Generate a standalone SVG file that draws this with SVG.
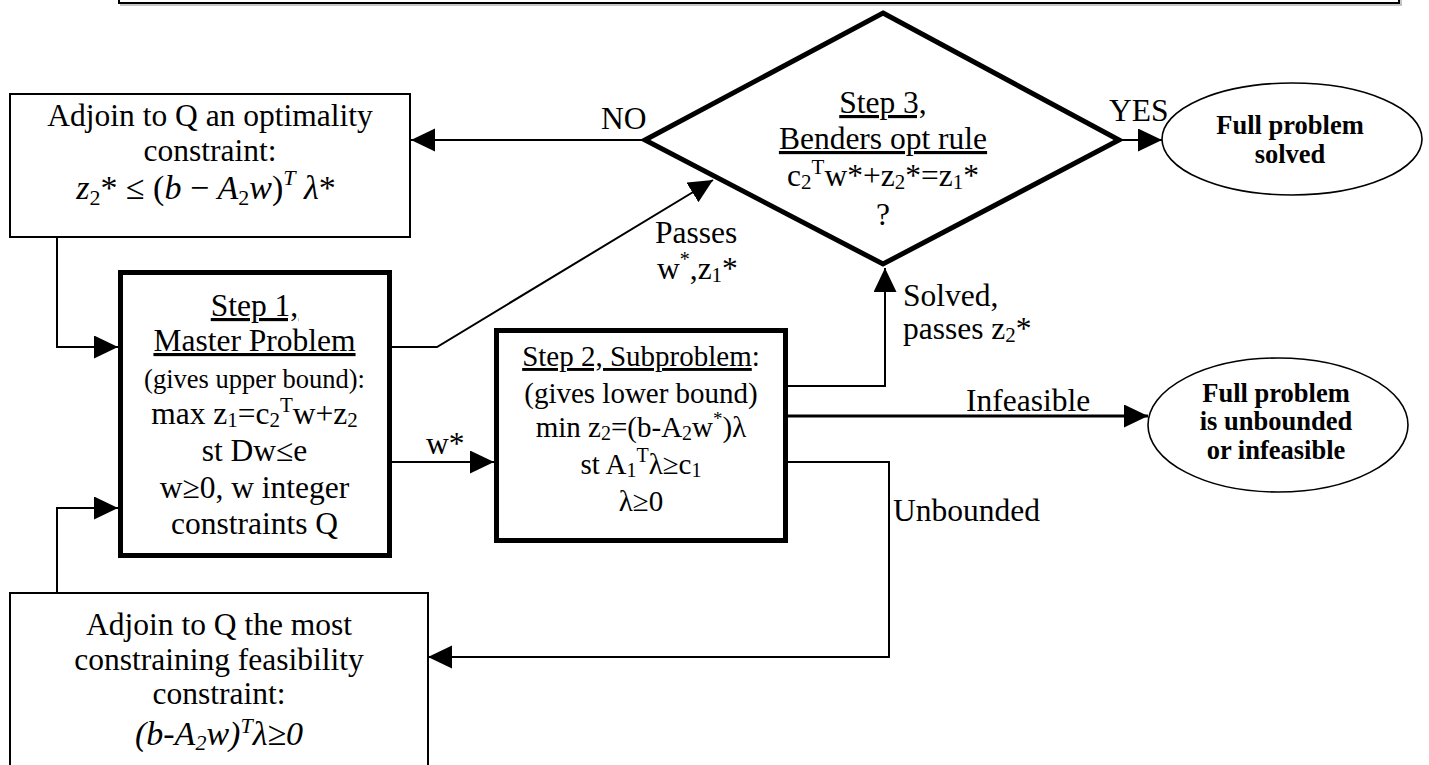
<svg xmlns="http://www.w3.org/2000/svg" width="1429" height="765" viewBox="0 0 1429 765">
<style>
  text { font-family: "Liberation Serif", "Times New Roman", serif; fill: #000; }
  .t { font-size: 31.5px; text-anchor: middle; }
  .l { font-size: 31.5px; }
  .s { font-size: 26.5px; text-anchor: middle; }
  .m { font-size: 29px; text-anchor: middle; }
  .b { font-size: 26.5px; font-weight: bold; text-anchor: middle; }
  .f { font-size: 34px; text-anchor: middle; }
  .i { font-style: italic; }
  .u { text-decoration: underline; }
  .box { fill: #fff; stroke: #000; stroke-width: 2; }
  .step { fill: #fff; stroke: #000; stroke-width: 5; }
  .oval { fill: #fff; stroke: #000; stroke-width: 1.6; }
  .wire { fill: none; stroke: #000; stroke-width: 2; marker-end: url(#ah); }
</style>
<defs>
  <marker id="ah" markerUnits="userSpaceOnUse" markerWidth="26" markerHeight="24" refX="24" refY="11.5" orient="auto">
    <path d="M0,0 L24,11.5 L0,23 Z" fill="#000"/>
  </marker>
</defs>

<rect width="1429" height="765" fill="#fff"/>

<!-- frame edge along the top -->
<g id="frame">
  <line x1="120" y1="5" x2="1402" y2="5" stroke="#b5b5b5" stroke-width="1.5"/>
  <line x1="1401" y1="0" x2="1401" y2="5" stroke="#b5b5b5" stroke-width="1.5"/>
  <rect x="119" y="-30" width="1280" height="33" fill="none" stroke="#000" stroke-width="2"/>
</g>

<!-- connectors -->
<g id="connectors">
  <path class="wire" d="M642,140 H411"/>
  <path class="wire" d="M57,237 V347 H118"/>
  <path class="wire" d="M57,593 V508 H118"/>
  <path class="wire" d="M392,347 H437 L713,180"/>
  <path class="wire" d="M392,462 H494"/>
  <path class="wire" d="M788,386 H885 V268"/>
  <path class="wire" style="stroke-width:3" d="M788,416 H1148"/>
  <path class="wire" d="M788,462 H889 V657 H428"/>
  <path class="wire" d="M1121,140 H1162"/>
</g>

<!-- connector labels -->
<g id="labels">
  <text class="l" x="601" y="129">NO</text>
  <text class="l" x="1109" y="121">YES</text>
  <text class="l" x="655" y="243">Passes</text>
  <text class="l" x="657" y="279">w<tspan font-size="20" dy="-13">*</tspan><tspan dy="13">,z</tspan><tspan font-size="21" dy="3">1</tspan><tspan dy="-3">*</tspan></text>
  <text class="l" x="426" y="454">w*</text>
  <text class="l" x="903" y="306">Solved,</text>
  <text class="l" x="903" y="339">passes z<tspan font-size="21" dy="3">2</tspan><tspan dy="-3">*</tspan></text>
  <text class="l" x="966" y="411">Infeasible</text>
  <text class="l" x="893" y="521">Unbounded</text>
</g>

<!-- optimality cut -->
<g id="optimality-cut">
  <rect class="box" x="10" y="94" width="400" height="143"/>
  <text class="t" x="210" y="126">Adjoin to Q an optimality</text>
  <text class="t" x="210" y="161">constraint:</text>
  <text class="f" x="206" y="199"><tspan class="i">z</tspan><tspan font-size="22" dy="6">2</tspan><tspan dy="-6">* ≤ (</tspan><tspan class="i">b</tspan> − <tspan class="i">A</tspan><tspan font-size="22" dy="6">2</tspan><tspan class="i" dy="-6">w</tspan>)<tspan class="i" font-size="22" dy="-14">T</tspan><tspan class="i" dy="14"> λ</tspan>*</text>
</g>

<!-- step 1 -->
<g id="master-problem">
  <rect class="step" x="120.5" y="272.5" width="269" height="283"/>
  <text class="t" x="254.5" y="316"><tspan class="u">Step 1,</tspan></text>
  <text class="t" x="254.5" y="351"><tspan class="u">Master Problem</tspan></text>
  <text class="s" x="254.5" y="388">(gives upper bound):</text>
  <text class="t" x="254.5" y="424">max z<tspan font-size="21" dy="3">1</tspan><tspan dy="-3">=c</tspan><tspan font-size="21" dy="3">2</tspan><tspan font-size="21" dy="-15">T</tspan><tspan dy="12">w+z</tspan><tspan font-size="21" dy="3">2</tspan></text>
  <text class="t" x="254.5" y="461">st Dw≤e</text>
  <text class="t" x="254.5" y="498">w≥0, w integer</text>
  <text class="t" x="254.5" y="534">constraints Q</text>
</g>

<!-- step 2 -->
<g id="subproblem">
  <rect class="step" x="496.5" y="330.5" width="289" height="210"/>
  <text class="m" x="641" y="366"><tspan class="u">Step 2, Subproblem</tspan>:</text>
  <text class="m" x="641" y="403">(gives lower bound)</text>
  <text class="m" x="641" y="437">min z<tspan font-size="20" dy="3">2</tspan><tspan dy="-3">=(b-A</tspan><tspan font-size="20" dy="3">2</tspan><tspan dy="-3">w</tspan><tspan font-size="19" dy="-12">*</tspan><tspan dy="12">)λ</tspan></text>
  <text class="m" x="641" y="474">st A<tspan font-size="20" dy="3">1</tspan><tspan font-size="20" dy="-15">T</tspan><tspan dy="12">λ≥c</tspan><tspan font-size="20" dy="3">1</tspan></text>
  <text class="m" x="641" y="511">λ≥0</text>
</g>

<!-- step 3 -->
<g id="optimality-test">
  <polygon points="883,13 1119,140 883,264 645,140" fill="#fff" stroke="#000" stroke-width="5"/>
  <text class="t" x="883" y="113"><tspan class="u">Step 3,</tspan></text>
  <text class="t" x="883" y="149"><tspan class="u">Benders opt rule</tspan></text>
  <text class="t" x="883" y="186">c<tspan font-size="21" dy="3">2</tspan><tspan font-size="21" dy="-15">T</tspan><tspan dy="12">w*+z</tspan><tspan font-size="21" dy="3">2</tspan><tspan dy="-3">*=z</tspan><tspan font-size="21" dy="3">1</tspan><tspan dy="-3">*</tspan></text>
  <text class="t" x="883" y="225">?</text>
</g>

<!-- terminal: solved -->
<g id="solved">
  <ellipse class="oval" cx="1292" cy="139" rx="130" ry="56"/>
  <text class="b" x="1290" y="134">Full problem</text>
  <text class="b" x="1290" y="163">solved</text>
</g>

<!-- terminal: unbounded / infeasible -->
<g id="unbounded">
  <ellipse class="oval" cx="1278" cy="425" rx="130" ry="67"/>
  <text class="b" x="1276" y="402">Full problem</text>
  <text class="b" x="1276" y="430">is unbounded</text>
  <text class="b" x="1276" y="459">or infeasible</text>
</g>

<!-- feasibility cut -->
<g id="feasibility-cut">
  <rect class="box" x="10" y="593" width="418" height="200"/>
  <text class="t" x="219" y="635">Adjoin to Q the most</text>
  <text class="t" x="219" y="670">constraining feasibility</text>
  <text class="t" x="219" y="704">constraint:</text>
  <text class="f i" x="219" y="745">(b-A<tspan font-size="22" dy="5">2</tspan><tspan dy="-5">w)</tspan><tspan font-size="22" dy="-12">T</tspan><tspan dy="12">λ≥0</tspan></text>
</g>
</svg>
